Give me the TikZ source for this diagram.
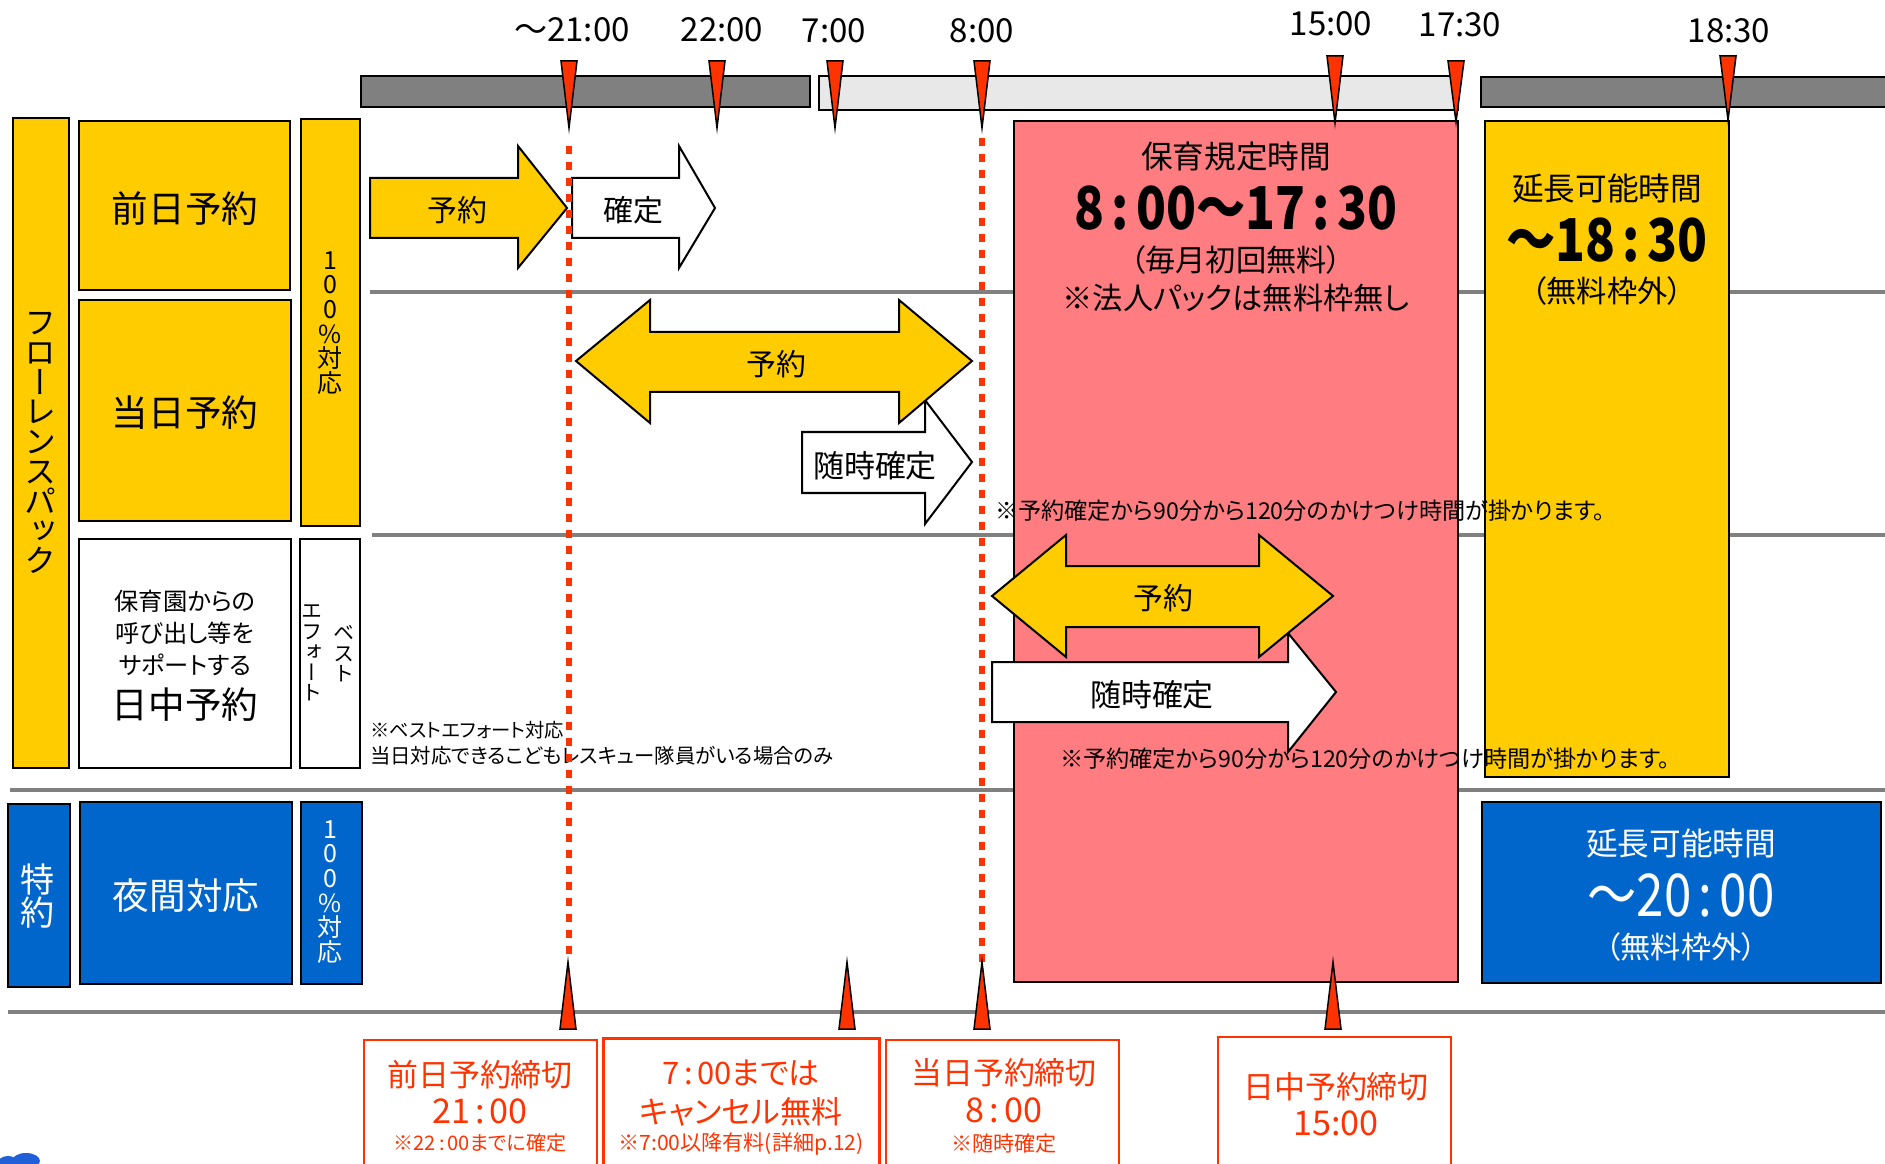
\documentclass[tikz,border=0pt]{standalone}
\usepackage{fontspec}
\usepackage{graphicx}
\setmainfont{Noto Sans CJK JP}[RawFeature=+palt]
\newfontfamily\vjp{Noto Sans CJK JP}[RawFeature=+vert]
\definecolor{ycol}{HTML}{FFCC00}
\definecolor{bcol}{HTML}{0066CC}
\definecolor{pcol}{HTML}{FF7C80}
\definecolor{gcol}{HTML}{808080}
\definecolor{dgray}{HTML}{808080}
\definecolor{lgray}{HTML}{E8E8E8}
\definecolor{rcol}{HTML}{FF3300}
\definecolor{blobcol}{HTML}{1F5FD8}
\newcommand\fs[2]{\fontsize{#1}{#2}\selectfont\lineskiplimit=-100pt\relax}
\newcommand\kc{\hspace{0.15em}:\hspace{0.15em}}
\newcommand\tall[1]{\scalebox{1}[1.2]{#1}}
\tikzset{
  box/.style={draw=black, line width=0.02cm},
  ybox/.style={box, fill=ycol},
  bbox/.style={box, fill=bcol},
  wbox/.style={box, fill=white},
  bar/.style={draw=black, line width=0.025cm},
  txt/.style={inner sep=0pt, outer sep=0pt, align=center},
  gline/.style={draw=gcol, line width=0.045cm},
  rdash/.style={draw=rcol, line width=0.065cm, dash pattern=on 0.08cm off 0.08cm},
  marker/.style={fill=rcol, draw=black, line width=0.015cm},
  rbox/.style={draw=rcol, line width=0.02cm, fill=white},
  arr/.style={draw=black, line width=0.02cm},
  timelabel/.style={txt, font=\fs{9.4}{10}},
  bigl/.style={txt, font=\fs{10.4}{12}},
  redt/.style={txt, text=rcol},
}
\begin{document}
\begin{tikzpicture}[x=0.01cm,y=-0.01cm]
\useasboundingbox (0,0) rectangle (1885,1164);
\clip (0,0) rectangle (1885,1164);

% horizontal gray rules
\draw[gline] (370,292) -- (1885,292);
\draw[gline] (372,535) -- (1885,535);
\draw[gline] (10,790) -- (1885,790);
\draw[gline] (8,1012) -- (1885,1012);

% top bars
\filldraw[bar, fill=dgray] (361,76) rectangle (810,107);
\filldraw[bar, fill=lgray] (819,76) rectangle (1458,110);
\filldraw[bar, fill=dgray] (1481,77) rectangle (1900,107);

% time labels
\node[timelabel] (t2100) at (572,30) {〜21:00};
\node[timelabel] (t2200) at (722,30) {22:00};
\node[timelabel] (t0700) at (834,31) {7:00};
\node[timelabel] (t0800) at (982,31) {8:00};
\node[timelabel] (t1500) at (1331,24) {15:00};
\node[timelabel] (t1730) at (1460,25) {17:30};
\node[timelabel] (t1830) at (1729,31) {18:30};

% pink core time box
\filldraw[box, fill=pcol] (1014,121) rectangle (1458,982);
\node[txt, font=\fs{9}{10}] (p1) at (1236,157) {保育規定時間};
\node[txt, font=\bfseries\fs{14}{16}] (p2) at (1236,208) {\tall{8\kc 00〜17\kc 30}};
\node[txt, font=\fs{8.6}{10}] (p3) at (1236,260) {（毎月初回無料）};
\node[txt, font=\fs{8.6}{10}] (p4) at (1236,298) {※法人パックは無料枠無し};

% yellow extension box
\filldraw[ybox] (1485,121) rectangle (1729,777);
\node[txt, font=\fs{9}{10}] (y1) at (1607,189) {延長可能時間};
\node[txt, font=\bfseries\fs{14}{16}] (y2) at (1607,240) {\tall{〜18\kc 30}};
\node[txt, font=\fs{8.6}{10}] (y3) at (1607,291) {（無料枠外）};

% blue extension box
\filldraw[bbox] (1482,802) rectangle (1881,983);
\node[txt, text=white, font=\fs{9}{10}] (b1) at (1681,844) {延長可能時間};
\node[txt, text=white, font=\fs{14}{16}] (b2) at (1681,895) {\tall{〜20\kc 00}};
\node[txt, text=white, font=\fs{8.6}{10}] (b3) at (1681,947) {（無料枠外）};

% left column boxes
\filldraw[ybox] (13,118) rectangle (69,768);
\node[txt, font={\vjp\fs{9.1}{8.45}}] (flp) at (41,443) {フ\\ロ\\ー\\レ\\ン\\ス\\パ\\ッ\\ク};
\filldraw[ybox] (79,121) rectangle (290,290);
\node[bigl] (zenjitsu) at (185,209) {前日予約};
\filldraw[ybox] (79,300) rectangle (291,521);
\node[bigl] (toujitsu) at (185,413) {当日予約};
\filldraw[ybox] (301,119) rectangle (360,526);
\node[txt, font={\vjp\fs{7.1}{7.0}}] (y100) at (330,323) {1\\0\\0\\\%\\対\\応};
\filldraw[wbox] (79,539) rectangle (291,768);
\node[txt, font=\fs{6.9}{9.1}] (nicchu1) at (185,633) {保育園からの\\呼び出し等を\\サポートする};
\node[bigl] (nicchu) at (185,705) {日中予約};
\filldraw[wbox] (300,539) rectangle (360,768);
\node[txt, font={\vjp\fs{6}{5.85}}] (best) at (344,654) {ベ\\ス\\ト};
\node[txt, font={\vjp\fs{6}{5.85}}] (effort) at (312,653) {エ\\フ\\ォ\\ー\\ト};
\filldraw[bbox] (8,804) rectangle (70,987);
\node[txt, text=white, font={\fs{9.7}{9.3}}] (tokuyaku) at (38,896) {特\\約};
\filldraw[bbox] (80,802) rectangle (292,984);
\node[bigl, text=white] (yakan) at (186,896) {夜間対応};
\filldraw[bbox] (301,802) rectangle (362,984);
\node[txt, text=white, font={\vjp\fs{7.1}{7.0}}] (b100) at (330,892) {1\\0\\0\\\%\\対\\応};

% arrows: row 1
\filldraw[arr, fill=ycol] (370,178) -- (518,178) -- (518,146) -- (567,208) -- (518,268) -- (518,238) -- (370,238) -- cycle;
\node[txt, font=\fs{8.5}{10}] (a1) at (457,210) {予約};
\filldraw[arr, fill=white] (572,178) -- (679,178) -- (679,146) -- (715,208) -- (679,268) -- (679,238) -- (572,238) -- cycle;
\node[txt, font=\fs{8.5}{10}] (a2) at (633,210) {確定};

% row 2
\filldraw[arr, fill=white] (802,432) -- (925,432) -- (925,400) -- (972,462) -- (925,524) -- (925,493) -- (802,493) -- cycle;
\node[txt, font=\fs{8.8}{10}] (a4) at (875,466) {随時確定};
\filldraw[arr, fill=ycol] (576,361) -- (650,300) -- (650,332) -- (899,332) -- (899,300) -- (972,361) -- (899,423) -- (899,392) -- (650,392) -- (650,423) -- cycle;
\node[txt, font=\fs{8.5}{10}] (a3) at (776,364) {予約};

% row 3
\filldraw[arr, fill=white] (992,662) -- (1288,662) -- (1288,633) -- (1336,692) -- (1288,752) -- (1288,722) -- (992,722) -- cycle;
\node[txt, font=\fs{8.8}{10}] (a6) at (1152,695) {随時確定};
\filldraw[arr, fill=ycol] (992,596) -- (1066,535) -- (1066,566) -- (1259,566) -- (1259,535) -- (1333,596) -- (1259,657) -- (1259,627) -- (1066,627) -- (1066,657) -- cycle;
\node[txt, font=\fs{8.5}{10}] (a5) at (1163,598) {予約};

% notes
\node[txt, anchor=west, font=\fs{6.6}{8}] (n1) at (995,511) {※予約確定から90分から120分のかけつけ時間が掛かります。};
\node[txt, anchor=west, font=\fs{6.6}{8}] (n2) at (1060,759) {※予約確定から90分から120分のかけつけ時間が掛かります。};
\node[txt, anchor=west, font=\fs{5.5}{7}] (n3) at (370,730) {※ベストエフォート対応};
\node[txt, anchor=west, font=\fs{5.8}{7}] (n4) at (370,756) {当日対応できるこどもレスキュー隊員がいる場合のみ};

% dashed deadline lines
\coordinate (d1a) at (569,146);
\coordinate (d1b) at (569,955);
\coordinate (d2a) at (982,138);
\coordinate (d2b) at (982,962);
\draw[rdash] (d1a) -- (d1b);
\draw[rdash] (d2a) -- (d2b);

% top markers
\foreach \x/\t/\b in {569/61/128, 717/61/128, 835/61/128, 982/61/128, 1335/56/123, 1456/61/122, 1728/56/120}
  \filldraw[marker] (\x-8,\t) -- (\x+8,\t) -- (\x,\b) -- cycle;

% bottom markers
\foreach \x in {568,847,982,1333}
  \filldraw[marker] (\x-8,1029) -- (\x+8,1029) -- (\x,962) -- cycle;

% bottom deadline boxes
\filldraw[rbox] (364,1040) rectangle (597,1180);
\node[redt, font=\fs{8.8}{10}] (c1a) at (480,1075) {前日予約締切};
\node[redt, font=\fs{9.7}{10}] (c1b) at (480,1111) {21\kc 00};
\node[redt, font=\fs{5.7}{7}] (c1c) at (480,1143) {※22\kc 00までに確定};

\filldraw[rbox, line width=0.03cm] (603,1038) rectangle (879,1180);
\node[redt, font=\fs{8.8}{10}] (c2a) at (741,1073) {7\kc 00までは};
\node[redt, font=\fs{8.8}{10}] (c2b) at (741,1112) {キャンセル無料};
\node[redt, font=\fs{6}{7}] (c2c) at (741,1144) {※7:00以降有料(詳細p.12)};

\filldraw[rbox] (886,1040) rectangle (1119,1180);
\node[redt, font=\fs{8.8}{10}] (c3a) at (1004,1073) {当日予約締切};
\node[redt, font=\fs{9.7}{10}] (c3b) at (1004,1110) {8\kc 00};
\node[redt, font=\fs{6}{7}] (c3c) at (1004,1144) {※随時確定};

\filldraw[rbox] (1218,1037) rectangle (1451,1180);
\node[redt, font=\fs{8.8}{10}] (c4a) at (1336,1087) {日中予約締切};
\node[redt, font=\fs{9.7}{10}] (c4b) at (1336,1123) {15:00};

% partial blue blobs at lower left
\fill[blobcol] (8,1163) ellipse [x radius=0.1cm, y radius=0.07cm];
\fill[blobcol] (26,1161) ellipse [x radius=0.14cm, y radius=0.08cm];
\end{tikzpicture}
\end{document}
